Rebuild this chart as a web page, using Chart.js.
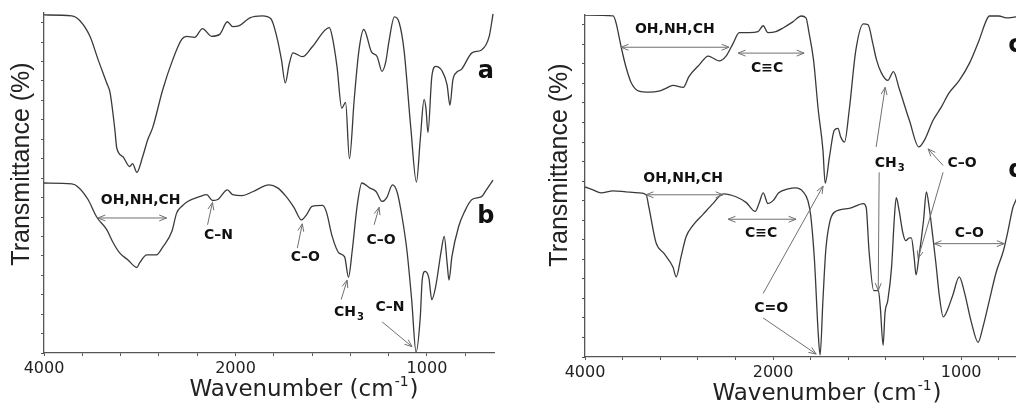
<!DOCTYPE html>
<html>
<head>
<meta charset="utf-8">
<script src="https://cdn.jsdelivr.net/npm/chart.js@4.4.1/dist/chart.umd.min.js"></script>
<style>
  html, body { margin: 0; padding: 0; background: #fff; overflow: hidden; width: 1016px; height: 408px; }
  .panel { position: absolute; top: 0; height: 408px; }
</style>
</head>
<body>
<div class="panel" style="left:0;width:512px"><canvas id="left"></canvas></div>
<div class="panel" style="left:516px;width:530px"><canvas id="right"></canvas></div>
<script>
// x tick labels (cm-1), axis has a scale break at 2000
const tickLabels = [4000, 2000, 1000];

// spectrum a (left, top)
const waveA = [4000,3710,3625,3520,3435,3345,3310,3260,3240,3175,3105,3075,3030,2970,2915,2865,2760,2655,2560,2510,2425,2345,2250,2165,2085,2030,1980,1925,1860,1815,1785,1760,1740,1720,1700,1650,1600,1510,1495,1470,1445,1425,1405,1380,1355,1330,1290,1260,1235,1215,1200,1170,1145,1120,1085,1055,1035,1015,1005,995,975,955,920,895,880,865,845,820,765,715,675,655];
const transA = [34.8,34.7,34.2,32.6,30.2,27.8,26.8,23.0,21.1,20.2,19.2,19.5,18.6,20.2,22.0,23.2,27.1,30.2,32.3,32.6,32.5,33.4,32.6,32.8,34.1,33.6,33.7,34.5,34.7,34.4,32.6,30.2,27.8,29.7,30.9,30.5,31.5,33.5,32.6,29.5,25.2,25.8,20.0,26.1,31.2,33.3,31.0,30.5,29.0,30.0,31.9,34.6,34.0,31.2,23.3,17.6,22.0,26.1,25.1,22.7,28.4,29.5,29.0,27.6,25.5,28.1,28.9,29.2,30.9,31.2,32.6,34.9];

// spectrum b (left, bottom)
const waveB = [4000,3710,3645,3540,3450,3345,3280,3210,3125,3030,3000,2925,2825,2760,2665,2615,2560,2500,2375,2300,2240,2185,2085,2030,1965,1910,1825,1780,1735,1695,1655,1630,1600,1545,1525,1495,1460,1430,1410,1390,1365,1340,1300,1265,1235,1210,1180,1155,1130,1105,1080,1057,1035,1025,1010,990,975,955,925,910,895,885,870,835,805,765,715,690,655];
const transB = [17.5,17.4,17.1,15.8,14.0,12.7,11.4,10.3,9.6,8.8,9.3,10.1,10.1,10.9,12.5,14.4,15.1,15.6,16.1,16.3,15.7,15.8,16.8,16.3,16.2,16.6,17.3,17.0,16.1,15.0,13.7,14.2,15.1,15.2,14.5,12.0,10.3,9.9,7.8,10.6,15.1,17.5,17.0,16.6,15.6,16.0,17.3,16.5,14.0,10.6,5.5,0.1,3.7,7.5,8.4,7.7,5.5,6.8,10.6,12.0,9.3,7.5,9.9,13.0,14.5,15.8,16.1,16.8,17.8];

// spectrum c (right, top)
const waveC = [4000,3700,3670,3615,3565,3510,3425,3320,3215,3140,3065,2955,2895,2785,2690,2640,2575,2500,2425,2360,2255,2160,2105,2055,1985,1945,1895,1850,1825,1810,1785,1760,1735,1723,1700,1675,1655,1640,1620,1595,1560,1520,1495,1470,1450,1425,1390,1360,1330,1275,1225,1195,1150,1105,1065,1010,955,905,865,850,800,760,710,660];
const transC = [35.0,34.9,34.2,31.7,29.7,28.1,27.2,27.1,27.2,27.5,27.8,27.6,28.7,29.9,30.8,30.6,30.3,30.8,32.1,33.2,33.2,33.3,33.9,33.2,33.3,33.7,34.3,34.9,34.7,33.3,30.4,25.3,21.2,17.8,20.5,23.2,23.4,22.5,22.0,25.3,31.4,34.1,34.0,32.1,30.4,29.1,28.3,29.2,27.5,24.2,21.5,22.2,24.2,25.6,27.0,28.3,30.1,32.4,34.5,34.9,34.9,34.7,34.8,34.9];

// spectrum d (right, bottom)
const waveD = [4000,3915,3830,3700,3565,3425,3350,3320,3245,3160,3065,3030,2980,2925,2850,2745,2640,2530,2395,2285,2190,2150,2105,2055,2000,1970,1920,1880,1840,1815,1800,1780,1760,1750,1735,1720,1700,1675,1595,1520,1505,1490,1465,1440,1430,1415,1405,1390,1370,1355,1345,1330,1310,1295,1275,1265,1250,1240,1225,1200,1185,1170,1150,1135,1115,1095,1080,1045,1010,985,945,910,885,850,815,775,750,725,710,660];
const transD = [17.4,17.1,16.8,17.0,16.9,16.8,16.6,15.3,11.7,10.6,9.2,8.2,10.2,12.3,13.5,14.6,15.7,16.7,16.4,15.8,14.9,15.7,16.8,15.7,16.0,16.8,17.2,17.3,16.9,16.0,14.5,9.9,2.4,0.2,5.8,10.9,13.7,14.8,15.2,15.7,15.3,10.9,6.8,6.8,5.1,1.2,4.5,5.8,9.2,14.3,16.3,15.0,12.7,11.9,12.2,12.2,10.2,8.4,10.2,14.0,16.9,15.3,12.2,9.7,6.1,4.1,4.5,6.3,8.2,6.8,3.5,1.5,3.0,5.8,8.6,10.9,13.0,15.3,16.0,18.1];

// wavenumber -> axis position (2000-650 region is drawn at double scale)
function toU(w) { return w >= 2000 ? 4000 - w : 6000 - 2 * w; }
function toW(u) { return u <= 2000 ? 4000 - u : (6000 - u) / 2; }
function series(waves, trans) { return waves.map((w, i) => ({ x: toU(w), y: trans[i] })); }

const FONT = '"DejaVu Sans", sans-serif';

function drawArrowHead(ctx, x1, y1, x2, y2) {
    const ang = Math.atan2(y2 - y1, x2 - x1), len = 8, spread = 0.38;
    ctx.beginPath();
    ctx.moveTo(x2 - len * Math.cos(ang - spread), y2 - len * Math.sin(ang - spread));
    ctx.lineTo(x2, y2);
    ctx.lineTo(x2 - len * Math.cos(ang + spread), y2 - len * Math.sin(ang + spread));
    ctx.stroke();
}

const decor = {
    id: 'decor',
    afterDraw(chart, args, opts) {
        const ctx = chart.ctx;
        const xs = chart.scales.x, ys = chart.scales.y;
        const px = (w) => xs.getPixelForValue(toU(w));
        const py = (v) => ys.getPixelForValue(v);
        ctx.save();

        // arrows
        ctx.strokeStyle = '#707070';
        ctx.lineWidth = 1;
        opts.arrows.forEach((a) => {
            const x1 = px(a.from[0]), y1 = py(a.from[1]);
            const x2 = px(a.to[0]), y2 = py(a.to[1]);
            ctx.beginPath();
            ctx.moveTo(x1, y1);
            ctx.lineTo(x2, y2);
            ctx.stroke();
            drawArrowHead(ctx, x1, y1, x2, y2);
            if (a.both) drawArrowHead(ctx, x2, y2, x1, y1);
        });

        // band labels
        ctx.fillStyle = '#111';
        ctx.textBaseline = 'middle';
        opts.notes.forEach((n) => {
            const size = n.size || 14;
            ctx.font = 'bold ' + size + 'px ' + FONT;
            const x = px(n.w), y = py(n.v);
            if (n.sub) {
                const wMain = ctx.measureText(n.text).width;
                ctx.font = 'bold 10px ' + FONT;
                const wSub = ctx.measureText(n.sub).width;
                const x0 = x - (wMain + wSub) / 2;
                ctx.textAlign = 'left';
                ctx.fillText(n.sub, x0 + wMain + 1, y + 5);
                ctx.font = 'bold ' + size + 'px ' + FONT;
                ctx.fillText(n.text, x0, y);
            } else {
                ctx.textAlign = n.align || 'center';
                ctx.fillText(n.text, x, y);
            }
        });

        // axis titles
        ctx.fillStyle = '#222';
        ctx.save();
        ctx.translate(opts.yTitle[0], opts.yTitle[1]);
        ctx.rotate(-Math.PI / 2);
        ctx.textAlign = 'center';
        ctx.font = '25px "Liberation Sans", Arial, sans-serif';
        ctx.fillText('Transmittance (%)', 0, 0);
        ctx.restore();

        const main = 'Wavenumber (cm', sup = '-1', tail = ')';
        ctx.font = '23px ' + FONT;
        const w1 = ctx.measureText(main).width, w3 = ctx.measureText(tail).width;
        ctx.font = '14px ' + FONT;
        const w2 = ctx.measureText(sup).width;
        let x0 = opts.xTitle[0] - (w1 + w2 + w3 + 2) / 2;
        const y0 = opts.xTitle[1];
        ctx.textAlign = 'left';
        ctx.font = '23px ' + FONT;
        ctx.fillText(main, x0, y0);
        ctx.font = '14px ' + FONT;
        ctx.fillText(sup, x0 + w1 + 1, y0 - 8);
        ctx.font = '23px ' + FONT;
        ctx.fillText(tail, x0 + w1 + w2 + 2, y0);
        ctx.restore();
    }
};

function makeChart(id, sets, pad, yWidth, xHeight, decorOpts) {
    return new Chart(document.getElementById(id), {
        type: 'line',
        data: {
            datasets: sets.map((s) => ({
                data: series(s[0], s[1]),
                borderColor: '#3a3a3a',
                borderWidth: 1.3,
                pointRadius: 0,
                cubicInterpolationMode: 'monotone',
                fill: false,
            })),
        },
        options: {
            responsive: true,
            maintainAspectRatio: false,
            animation: false,
            events: [],
            layout: { padding: pad },
            plugins: {
                legend: { display: false },
                tooltip: { enabled: false },
                decor: decorOpts,
            },
            scales: {
                x: {
                    type: 'linear',
                    min: 0,
                    max: 4700,
                    afterBuildTicks: (scale) => {
                        const t = [];
                        for (let u = 0; u <= 4400; u += 400) t.push({ value: u });
                        scale.ticks = t;
                    },
                    afterFit: (scale) => { scale.height = xHeight; },
                    grid: { drawOnChartArea: false, tickLength: 3, color: '#555' },
                    border: { color: '#555', width: 1.3 },
                    ticks: {
                        padding: 3,
                        color: '#222',
                        font: { family: 'DejaVu Sans', size: 16 },
                        maxRotation: 0,
                        autoSkip: false,
                        callback: (value) => {
                            const w = toW(value);
                            return tickLabels.includes(w) ? String(w) : '';
                        },
                    },
                },
                y: {
                    min: 0,
                    max: 35,
                    afterBuildTicks: (scale) => {
                        const t = [];
                        for (let v = 0; v <= 34; v += 2) t.push({ value: v });
                        scale.ticks = t;
                    },
                    afterFit: (scale) => { scale.width = yWidth; },
                    grid: { drawOnChartArea: false, tickLength: 3, color: '#555' },
                    border: { color: '#555', width: 1.3 },
                    ticks: { display: false },
                },
            },
        },
        plugins: [decor],
    });
}

makeChart('left', [[waveA, transA], [waveB, transB]],
    { top: 13, right: 18, bottom: 0, left: 0 }, 44, 55, {
        yTitle: [22, 164],
        xTitle: [304, 390],
        notes: [
            { text: 'a', w: 693, v: 29.0, size: 24 },
            { text: 'b', w: 693, v: 14.0, size: 24 },
            { text: 'OH,NH,CH', w: 2990, v: 15.7 },
            { text: 'C\u2013N', w: 2177, v: 12.1 },
            { text: 'C\u2013O', w: 1635, v: 9.8 },
            { text: 'C\u2013O', w: 1240, v: 11.6 },
            { text: 'CH', sub: '3', w: 1410, v: 4.2 },
            { text: 'C\u2013N', w: 1193, v: 4.7 },
        ],
        arrows: [
            { from: [3437, 13.9], to: [2719, 13.9], both: true },
            { from: [2292, 13.2], to: [2240, 15.5] },
            { from: [1677, 10.8], to: [1651, 13.3] },
            { from: [1276, 13.2], to: [1250, 15.0] },
            { from: [1448, 5.5], to: [1417, 7.5] },
            { from: [1234, 3.2], to: [1078, 0.65] },
        ],
    });

makeChart('right', [[waveC, transC], [waveD, transD]],
    { top: 15, right: 19, bottom: 0, left: 0 }, 69, 51, {
        yTitle: [44, 165],
        xTitle: [311, 394],
        notes: [
            { text: 'c', w: 750, v: 31.9, size: 24, align: 'left' },
            { text: 'd', w: 750, v: 19.1, size: 24, align: 'left' },
            { text: 'OH,NH,CH', w: 3045, v: 33.5 },
            { text: 'C\u2261C', w: 2064, v: 29.5 },
            { text: 'CH', sub: '3', w: 1383, v: 19.8 },
            { text: 'C\u2013O', w: 995, v: 19.8 },
            { text: 'OH,NH,CH', w: 2957, v: 18.3 },
            { text: 'C\u2261C', w: 2128, v: 12.7 },
            { text: 'C=O', w: 2021, v: 5.0 },
            { text: 'C\u2013O', w: 957, v: 12.7 },
        ],
        arrows: [
            { from: [3617, 31.7], to: [2468, 31.7], both: true },
            { from: [2372, 31.1], to: [1835, 31.1], both: true },
            { from: [1452, 21.5], to: [1404, 27.6] },
            { from: [1436, 18.9], to: [1441, 6.8] },
            { from: [1096, 19.6], to: [1176, 21.3] },
            { from: [1096, 18.9], to: [1229, 10.1] },
            { from: [3351, 16.6], to: [2532, 16.6], both: true },
            { from: [2479, 14.1], to: [1878, 14.1], both: true },
            { from: [2106, 6.5], to: [1734, 17.5] },
            { from: [2106, 4.0], to: [1771, 0.3] },
            { from: [1144, 11.6], to: [771, 11.6], both: true },
        ],
    });
</script>
</body>
</html>
